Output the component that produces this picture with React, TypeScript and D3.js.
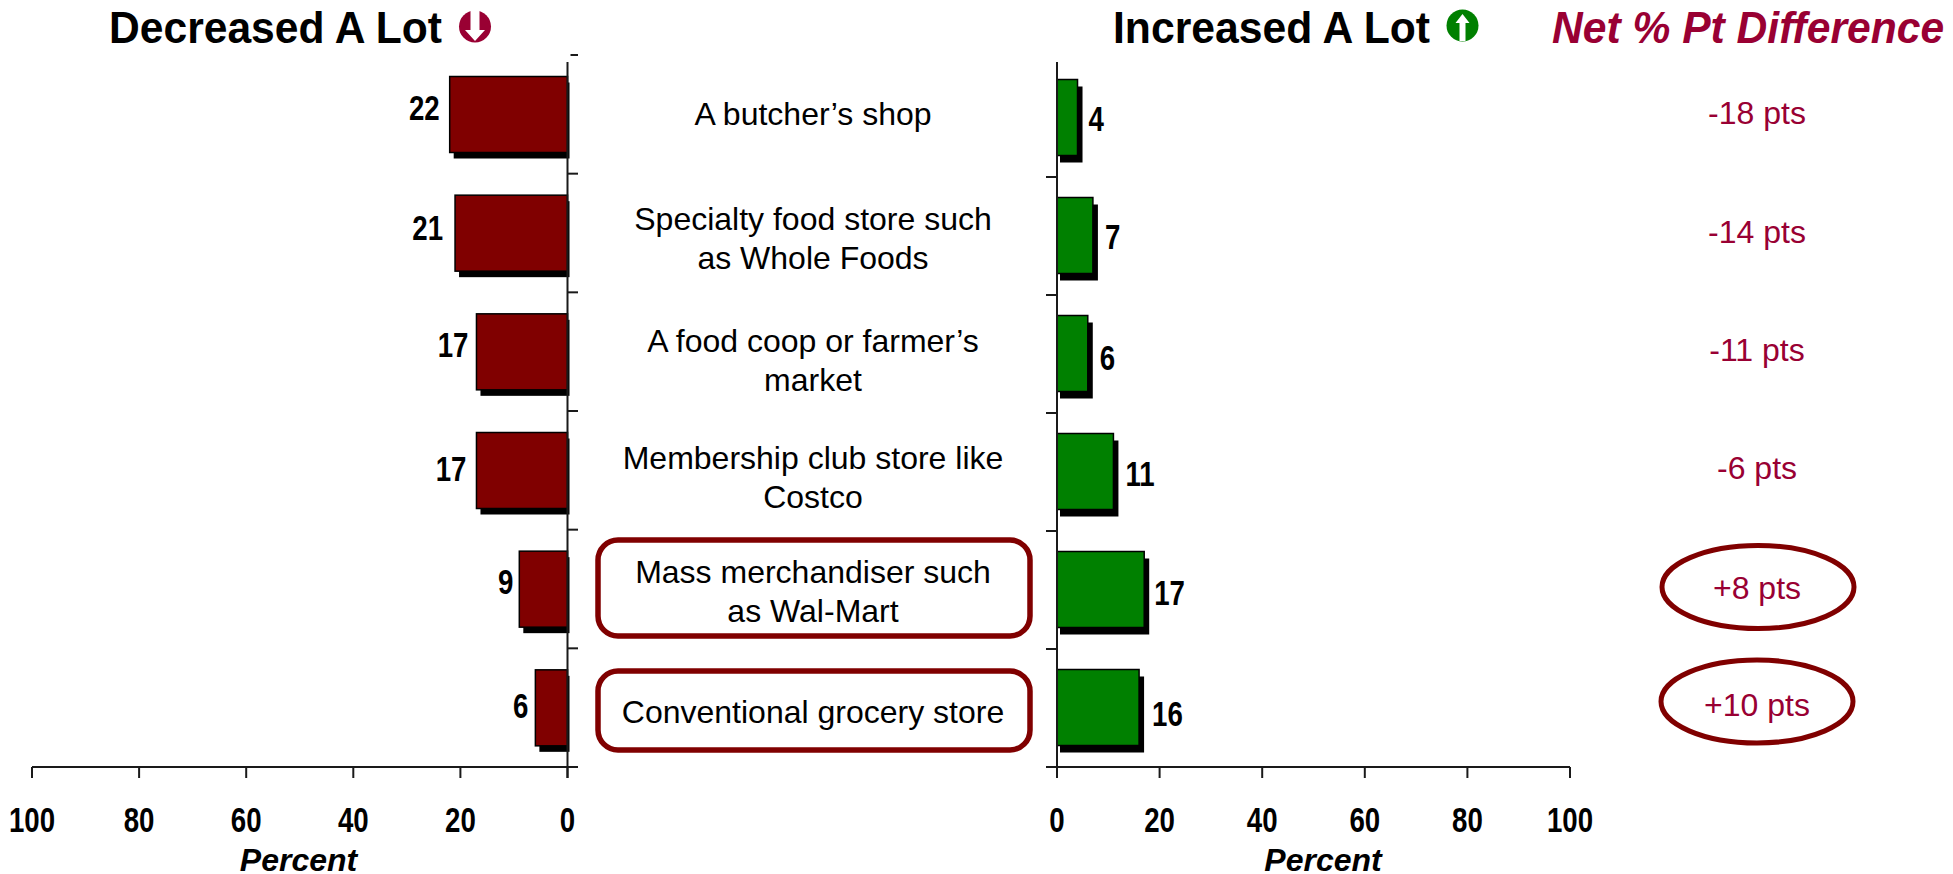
import React from "react";
import * as d3 from "d3";

const categories: string[][] = [
  ["A butcher’s shop"],
  ["Specialty food store such", "as Whole Foods"],
  ["A food coop or farmer’s", "market"],
  ["Membership club store like", "Costco"],
  ["Mass merchandiser such", "as Wal-Mart"],
  ["Conventional grocery store"],
];
const decreased = [22, 21, 17, 17, 9, 6];
const increased = [4, 7, 6, 11, 17, 16];
const netLabels = ["-18 pts", "-14 pts", "-11 pts", "-6 pts", "+8 pts", "+10 pts"];
const highlighted = [4, 5];
const xTicks = [0, 20, 40, 60, 80, 100];

const rows = d3.range(6);
const W = 1953, H = 874;
const MAROON = "#800000", GREEN = "#008000", WINE = "#990033", AXIS = "#1a1a1a";
const FONT = "'Liberation Sans', Arial, sans-serif";

const xL = d3.scaleLinear().domain([0, 100]).range([567.5, 32]);
const xR = d3.scaleLinear().domain([0, 100]).range([1057, 1570]);
const yL = d3.scaleBand<number>().domain(rows).range([55, 767]);
const yR = d3.scaleBand<number>().domain(rows).range([59, 767]);

// layout nudges
const labelYL = [120, 240, 357, 481, 594, 718];
const labelYR = [131, 249, 370, 486, 605, 726];
const labelGapL = [10, 12, 8, 10, 6, 7];
const labelGapR = [11, 12, 12, 12, 10, 13];
const catY = [114, 238, 360, 477, 591, 712];
const netY = [113, 232, 350, 468, 588, 705];
const ellipses = [[1758, 587, 96, 41.5], [1757, 701.5, 96, 41.5]];
const boxes = [[598, 540, 432, 96], [598, 671, 432, 79]];

function Num({ x, y, t, anchor = "middle" }: { x: number; y: number; t: string | number; anchor?: string }) {
  return (
    <text transform={`translate(${x},${y}) scale(0.79,1)`} textAnchor={anchor} fontFamily={FONT} fontWeight={700} fontSize={35} fill="#000">
      {t}
    </text>
  );
}

function Axis({ x, y, x2 }: { x: d3.ScaleLinear<number, number>; y: d3.ScaleBand<number>; x2: number }) {
  const x0 = x(0);
  const side = x2 > x0 ? 1 : -1;
  return (
    <g stroke={AXIS} strokeWidth={2} fill="none">
      <line x1={x(100)} x2={x2} y1={767} y2={767} />
      <line x1={x0} x2={x0} y1={62} y2={778} />
      {xTicks.map((t) => <line key={t} x1={x(t)} x2={x(t)} y1={767} y2={778} />)}
      {rows.filter((r) => r > 0).map((r) => (
        <line key={r} x1={x0} x2={x2} y1={y(r)!} y2={y(r)!} />
      ))}
      {side > 0 && <line x1={x0 + 3} x2={x2} y1={y(0)!} y2={y(0)!} />}
    </g>
  );
}

export default function App() {
  return (
    <svg width={W} height={H} style={{ position: "absolute", left: 0, top: 0, background: "#fff" }}>
      {/* titles */}
      <text x={109} y={43} textLength={333} lengthAdjust="spacingAndGlyphs" fontFamily={FONT} fontWeight={700} fontSize={44}>Decreased A Lot</text>
      <text x={1113} y={43} textLength={317} lengthAdjust="spacingAndGlyphs" fontFamily={FONT} fontWeight={700} fontSize={44}>Increased A Lot</text>
      <text transform="translate(1552,43) scale(0.968,1)" fontFamily={FONT} fontWeight={700} fontStyle="italic" fontSize={44} fill={WINE}>Net % Pt Difference</text>

      {/* icons */}
      <circle cx={475} cy={26.5} r={16} fill={WINE} />
      <path d="M470.5 10 h9 v20 h5.5 l-10 11 l-10 -11 h5.5 z" fill="#fff" />
      <ellipse cx={1462.5} cy={25.5} rx={16} ry={16} fill={GREEN} />
      <path d="M1462.5 14 l7 9 h-4 v18 h-6 v-18 h-4 z" fill="#fff" />

      {/* left bars */}
      {decreased.map((v, i) => {
        const top = yL(i)! + 21.5;
        const left = xL(v);
        return (
          <g key={i}>
            <rect x={left + 4} y={top + 6} width={569.5 - left - 4} height={76} fill="#000" />
            <rect x={left} y={top} width={xL(0) - left} height={76} fill={MAROON} stroke="#000" strokeWidth={1.5} />
            <Num x={left - labelGapL[i]} y={labelYL[i]} t={v} anchor="end" />
          </g>
        );
      })}

      {/* right bars */}
      {increased.map((v, i) => {
        const top = yR(i)! + 20.5;
        const right = xR(v);
        return (
          <g key={i}>
            <rect x={xR(0) + 3} y={top + 7} width={right + 5 - xR(0) - 3} height={76} fill="#000" />
            <rect x={xR(0)} y={top} width={right - xR(0)} height={76} fill={GREEN} stroke="#000" strokeWidth={1.5} />
            <Num x={right + labelGapR[i]} y={labelYR[i]} t={v} anchor="start" />
          </g>
        );
      })}

      <Axis x={xL} y={yL} x2={578} />
      <Axis x={xR} y={yR} x2={1046} />

      {xTicks.map((t) => <Num key={"l" + t} x={xL(t)} y={832} t={t} />)}
      {xTicks.map((t) => <Num key={"r" + t} x={xR(t)} y={832} t={t} />)}
      <text x={298.5} y={871} textAnchor="middle" fontFamily={FONT} fontWeight={700} fontStyle="italic" fontSize={32}>Percent</text>
      <text x={1323} y={871} textAnchor="middle" fontFamily={FONT} fontWeight={700} fontStyle="italic" fontSize={32}>Percent</text>

      {/* highlight boxes */}
      {highlighted.map((r, k) => (
        <rect key={r} x={boxes[k][0]} y={boxes[k][1]} width={boxes[k][2]} height={boxes[k][3]} rx={20} fill="none" stroke={MAROON} strokeWidth={5.5} />
      ))}

      {/* categories */}
      {categories.map((lines, i) => (
        <text key={i} textAnchor="middle" fontFamily={FONT} fontSize={32} fill="#000">
          {lines.map((l, j) => (
            <tspan key={j} x={813} y={catY[i] + (j - (lines.length - 1) / 2) * 39 + 11}>{l}</tspan>
          ))}
        </text>
      ))}

      {/* net */}
      {highlighted.map((r, k) => (
        <ellipse key={r} cx={ellipses[k][0]} cy={ellipses[k][1]} rx={ellipses[k][2]} ry={ellipses[k][3]} fill="none" stroke={MAROON} strokeWidth={5} />
      ))}
      {netLabels.map((t, i) => (
        <text key={t} x={1757} y={netY[i] + 11} textAnchor="middle" fontFamily={FONT} fontSize={32} fill={WINE}>{t}</text>
      ))}
    </svg>
  );
}
